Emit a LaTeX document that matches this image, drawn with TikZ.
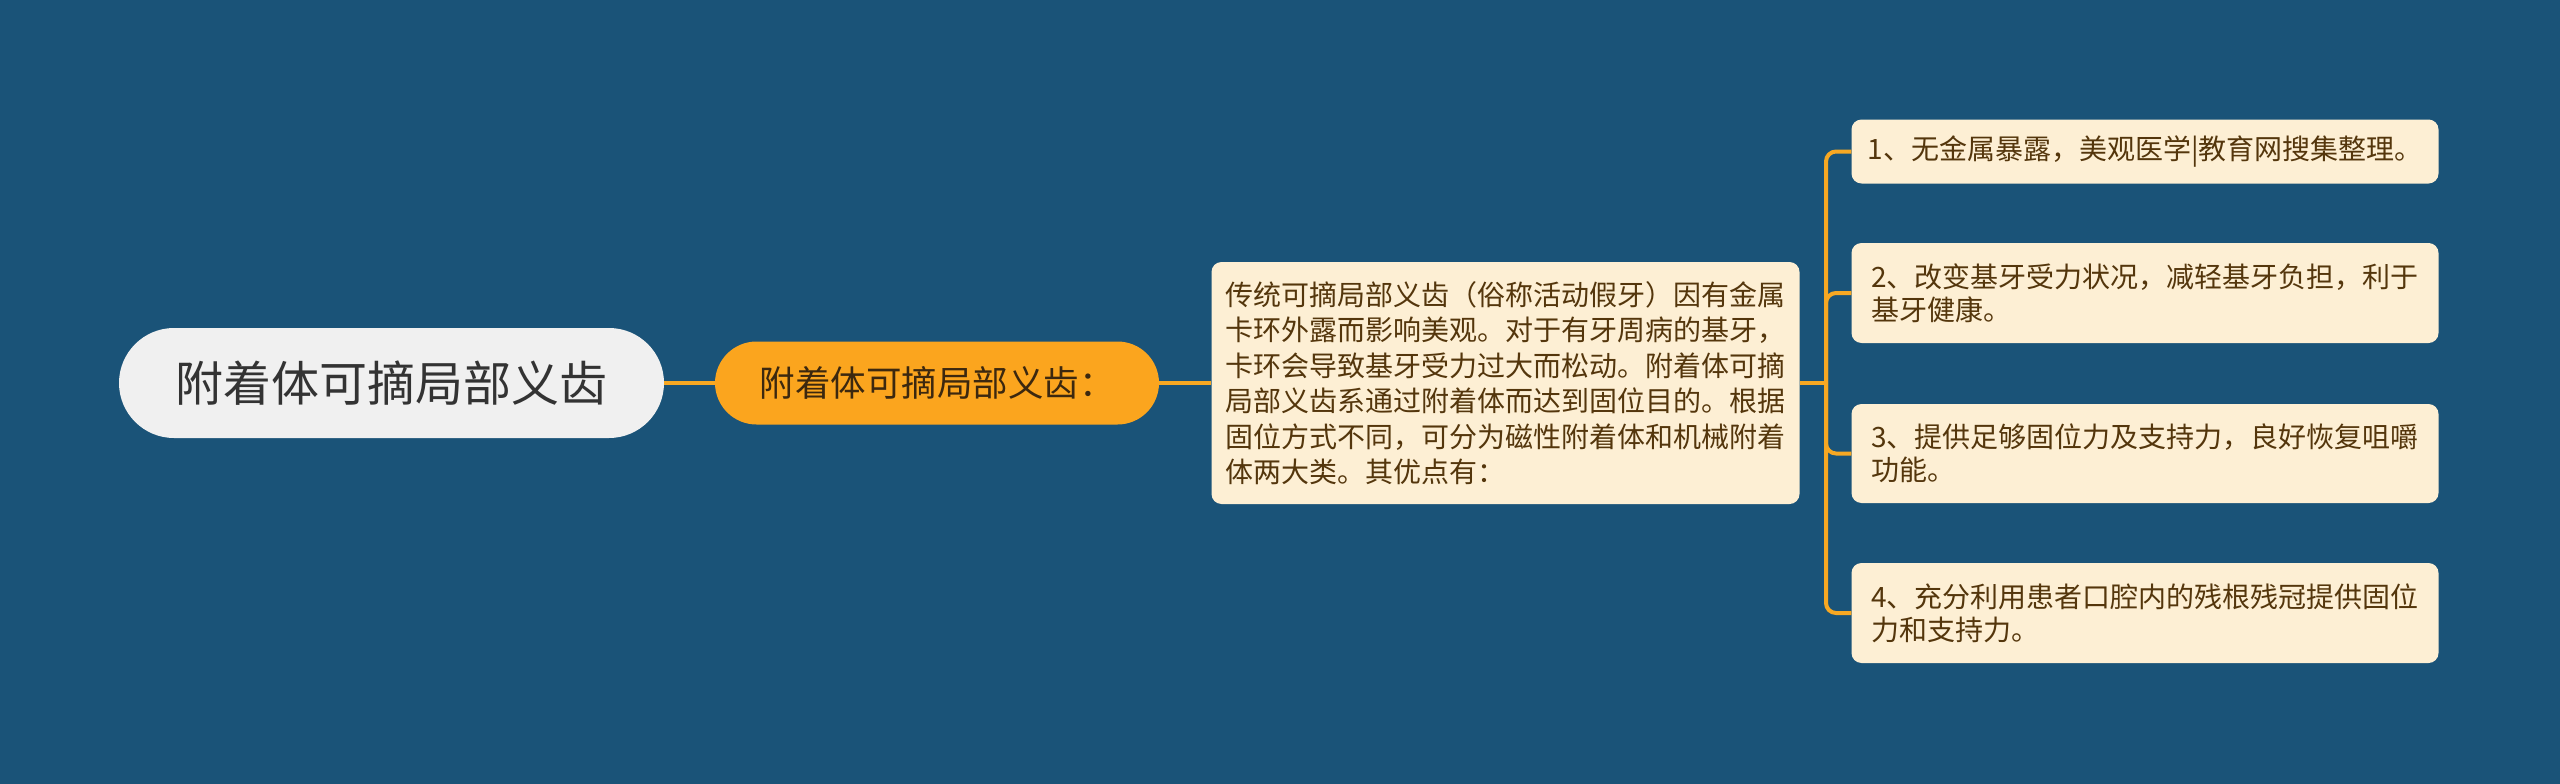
\documentclass[tikz,border=0pt]{standalone}
\usepackage{fontspec}
\setmainfont{Noto Sans CJK SC}
\definecolor{bgblue}{RGB}{26,83,120}
\definecolor{lineorange}{RGB}{247,168,35}
\definecolor{midorange}{RGB}{251,165,30}
\definecolor{cream}{RGB}{253,239,212}
\definecolor{brown}{RGB}{84,54,12}
\definecolor{rootfill}{RGB}{240,240,240}
\definecolor{roottext}{RGB}{51,51,51}
\definecolor{midtext}{RGB}{60,40,15}
\tikzset{
  rootbox/.style={fill=rootfill, rounded corners=55pt, minimum width=545pt, minimum height=110pt,
    inner sep=0pt, text=roottext, font=\fontsize{48}{58}\selectfont},
  midbox/.style={fill=midorange, rounded corners=41.5pt, minimum width=444pt, minimum height=83pt,
    inner sep=0pt, text=midtext, font=\fontsize{35.5}{42}\selectfont},
  descbox/.style={fill=cream, rounded corners=10pt, minimum width=588pt, minimum height=242pt,
    inner sep=0pt, align=left, text=brown, font=\fontsize{28}{35.5}\selectfont},
  leafbox/.style={fill=cream, rounded corners=10pt, minimum width=587pt,
    inner sep=0pt, align=left, text=brown, font=\fontsize{28}{33}\selectfont},
  conn/.style={draw=lineorange, line width=4pt},
}
\begin{document}
\begin{tikzpicture}[x=1pt,y=-1pt]
\fill[bgblue] (0,0) rectangle (2560,784);
\useasboundingbox (0,0) rectangle (2560,784);

\node[rootbox] (root) at (391.5,383) {附着体可摘局部义齿};
\node[midbox] (mid) at (937,383) {附着体可摘局部义齿：};
\node[descbox] (desc) at (1505.5,383) {传统可摘局部义齿（俗称活动假牙）因有金属\\卡环外露而影响美观。对于有牙周病的基牙，\\卡环会导致基牙受力过大而松动。附着体可摘\\局部义齿系通过附着体而达到固位目的。根据\\固位方式不同，可分为磁性附着体和机械附着\\体两大类。其优点有：};

\node[leafbox, minimum height=64pt] (l1) at (2145,151.5) {1、无金属暴露，美观医学|教育网搜集整理。};
\node[leafbox, minimum height=100pt] (l2) at (2145,293) {2、改变基牙受力状况，减轻基牙负担，利于\\基牙健康。};
\node[leafbox, minimum height=99pt] (l3) at (2145,453.5) {3、提供足够固位力及支持力，良好恢复咀嚼\\功能。};
\node[leafbox, minimum height=100pt] (l4) at (2145,613) {4、充分利用患者口腔内的残根残冠提供固位\\力和支持力。};

\coordinate (J) at (1826,383);
\draw[conn] (root.east) -- (mid.west);
\draw[conn] (mid.east) -- (desc.west);
\draw[conn] (desc.east) -- (J);
\foreach \n in {l1,l2,l3,l4}{
  \draw[conn, rounded corners=10pt] (J) |- (\n.west);
}
\end{tikzpicture}
\end{document}
